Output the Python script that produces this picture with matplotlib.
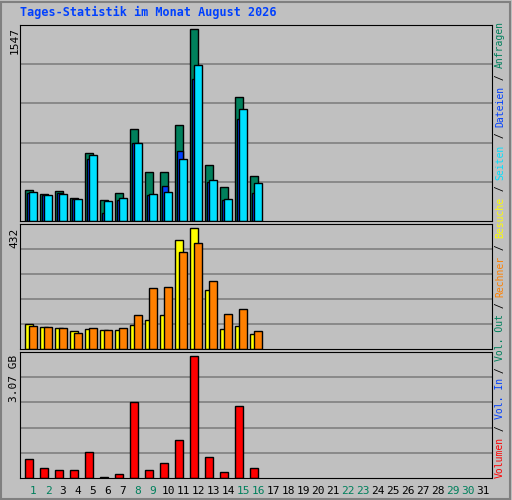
import numpy as np
from matplotlib import pyplot as plt

days = np.arange(1, 32)
hits  = [253, 221, 245, 189, 552, 172, 229, 746, 399, 399, 771, 1547, 455, 278, 997, 367]
files = [226, 213, 226, 175, 504, 67, 167, 633, 208, 280, 569, 1145, 313, 172, 825, 224]
pages = [237, 213, 221, 181, 536, 164, 189, 633, 221, 237, 504, 1256, 334, 181, 908, 310]
visits = [90, 79, 76, 65, 72, 68, 68, 86, 104, 122, 389, 432, 212, 72, 83, 54]
sites  = [83, 79, 76, 58, 76, 68, 76, 122, 216, 223, 346, 378, 241, 126, 144, 65]
volume = [0.47, 0.24, 0.19, 0.21, 0.65, 0.03, 0.11, 1.91, 0.21, 0.37, 0.96, 3.07, 0.52, 0.14, 1.81, 0.24]
weekend = [1, 2, 8, 9, 15, 16, 22, 23, 29, 30]

bg = '#c0c0c0'
green, blue, cyan = '#00805c', '#0040ff', '#00e0ff'
yellow, orange, red = '#ffff00', '#ff8000', '#ff0000'
mono = 'DejaVu Sans Mono'

fig = plt.figure(figsize=(5.12, 5.0), dpi=100, facecolor=bg)
x0 = np.arange(len(hits))

def panel(rect, top):
    ax = fig.add_axes(rect, facecolor=bg)
    ax.set_xlim(-0.333, 31.13)
    ax.set_ylim(0, top)
    for k in range(1, 5):
        ax.axhline(top * k / 5, color='#808080', lw=1.2, zorder=0)
    ax.set_xticks([]); ax.set_yticks([])
    for s in ax.spines.values():
        s.set_color('black')
    return ax

ax1 = panel([0.039, 0.558, 0.922, 0.392], 1582)
ax1.bar(x0, hits, width=0.53, align='edge', color=green, edgecolor='black', lw=1)
ax1.bar(x0 + 0.13, files, width=0.4, align='edge', color=blue, edgecolor='black', lw=1)
ax1.bar(x0 + 0.27, pages, width=0.53, align='edge', color=cyan, edgecolor='black', lw=1)

ax2 = panel([0.039, 0.302, 0.922, 0.25], 446)
ax2.bar(x0, visits, width=0.53, align='edge', color=yellow, edgecolor='black', lw=1)
ax2.bar(x0 + 0.27, sites, width=0.53, align='edge', color=orange, edgecolor='black', lw=1)

ax3 = panel([0.039, 0.044, 0.922, 0.252], 3.17)
ax3.bar(x0, volume, width=0.53, align='edge', color=red, edgecolor='black', lw=1)

for d in days:
    fig.text((25 + 15 * (d - 1) + 8) / 512, 0.018, str(d), ha='center', va='center',
             family=mono, fontsize=8, color=green if d in weekend else 'black')

fig.text(20 / 512, 0.975, 'Tages-Statistik im Monat August 2026', ha='left', va='center',
         family=mono, fontsize=8.5, fontweight='bold', color=blue)
fig.text(0.028, 0.945, '1547', rotation=90, ha='center', va='top', family=mono, fontsize=8)
fig.text(0.028, 0.545, '432', rotation=90, ha='center', va='top', family=mono, fontsize=8)
fig.text(0.028, 0.290, '3.07 GB', rotation=90, ha='center', va='top', family=mono, fontsize=8)

legend = [('Volumen', red), ('Vol. In', blue), ('Vol. Out', green), ('Rechner', orange),
          ('Besuche', yellow), ('Seiten', cyan), ('Dateien', blue), ('Anfragen', green)]
pos = 478.0
step = 0.602 * 7 * 100 / 72
for i, (lab, col) in enumerate(legend):
    fig.text(500 / 512, 1 - pos / 500, lab, rotation=90, ha='center', va='bottom',
             family=mono, fontsize=7, color=col)
    pos -= step * len(lab)
    if i < len(legend) - 1:
        fig.text(500 / 512, 1 - pos / 500, ' / ', rotation=90, ha='center', va='bottom',
                 family=mono, fontsize=7, color='black')
        pos -= step * 3

fig.add_artist(plt.Rectangle((0.002, 0.002), 0.994, 0.994, transform=fig.transFigure,
                             fill=False, edgecolor='#808080', lw=1.5))
fig.savefig('out.png', dpi=100, facecolor=bg)
